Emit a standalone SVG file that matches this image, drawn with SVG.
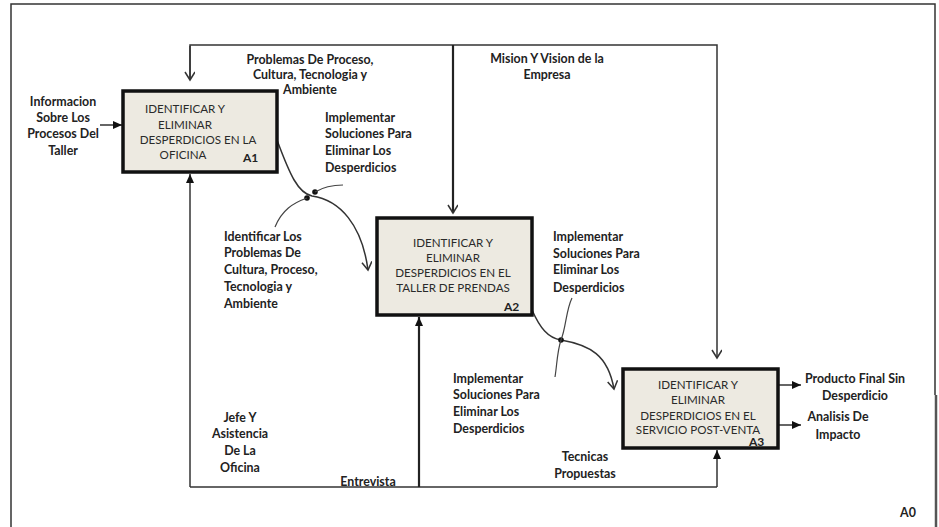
<svg xmlns="http://www.w3.org/2000/svg" width="939" height="527" viewBox="0 0 939 527">
  <defs>
    <style>
      .frame { fill: none; stroke: #333; stroke-width: 1.5; }
      .box { fill: #edeae1; stroke: #111; stroke-width: 3.5; }
      .btxt { font-family: Lato, "Liberation Sans", sans-serif; font-size: 11.6px; fill: #2a2a2a; text-anchor: middle; }
      .code { font-family: Lato, "Liberation Sans", sans-serif; font-size: 12px; font-weight: bold; fill: #222; }
      .lbl { font-family: Lato, "Liberation Sans", sans-serif; font-size: 12.4px; font-weight: bold; fill: #222; }
      .mid { text-anchor: middle; }
      .ln { fill: none; stroke: #333; stroke-width: 1.5; }
      .lnb { fill: none; stroke: #222; stroke-width: 2.2; }
      .sq { fill: none; stroke: #444; stroke-width: 1.2; }
    </style>
    <marker id="open" markerWidth="12" markerHeight="12" refX="9" refY="5" orient="auto" markerUnits="userSpaceOnUse">
      <path d="M1,0 L9,5 L1,10" fill="none" stroke="#333" stroke-width="1.5"/>
    </marker>
    <marker id="solid" markerWidth="12" markerHeight="12" refX="9" refY="4" orient="auto" markerUnits="userSpaceOnUse">
      <path d="M0,0 L9,4 L0,8 z" fill="#111"/>
    </marker>
  </defs>

  <rect width="939" height="527" fill="#fff"/>

  <!-- page frame -->
  <path class="frame" d="M11,527 L11,4 L935,4 L935,395"/>
  <line x1="936" y1="395" x2="936" y2="527" stroke="#555" stroke-width="2.5"/>

  <g id="connectors">
    <!-- control loop across the top -->
    <path class="ln" d="M190,80 L190,45 L717,45 L717,358" marker-end="url(#open)"/>
    <path class="ln" d="M190,46 L190,80" marker-end="url(#open)"/>
    <!-- mision y vision control to A2 -->
    <path class="lnb" d="M453,45 L453,213" marker-end="url(#open)"/>
    <!-- input to A1 -->
    <path class="ln" d="M100,125 L122,125" marker-end="url(#solid)"/>
    <!-- mechanism loop along the bottom -->
    <path class="ln" d="M190,487 L717,487"/>
    <path class="ln" d="M190,487 L190,174" marker-end="url(#solid)"/>
    <path class="lnb" d="M419,487 L419,317" marker-end="url(#solid)"/>
    <path class="ln" d="M717,487 L717,450" marker-end="url(#solid)"/>
    <!-- A1 output to A2 -->
    <path class="ln" d="M277,140 C290,175 298,193 312,196 C340,200 362,225 368,270" marker-end="url(#open)"/>
    <circle cx="307" cy="198" r="2.8" fill="#111"/>
    <circle cx="315" cy="192" r="2.8" fill="#111"/>
    <path class="sq" d="M315,192 C325,186 333,185 343,185"/>
    <path class="sq" d="M307,198 C293,203 282,210 275,227"/>
    <!-- A2 output to A3 -->
    <path class="ln" d="M532,310 C540,328 548,338 561,340 C590,345 608,355 614,389" marker-end="url(#open)"/>
    <circle cx="561" cy="340" r="2.8" fill="#111"/>
    <path class="sq" d="M572,298 C566,310 566,328 561,340 C557,352 557,365 555,377"/>
    <!-- outputs of A3 -->
    <path class="ln" d="M778,385 L801,385" marker-end="url(#solid)"/>
    <path class="ln" d="M778,425 L801,425" marker-end="url(#solid)"/>
  </g>

  <g id="A1">
    <rect class="box" x="123" y="91" width="154" height="81"/>
    <text class="btxt" x="185" y="113">IDENTIFICAR Y</text>
    <text class="btxt" x="185" y="129">ELIMINAR</text>
    <text class="btxt" x="198" y="144">DESPERDICIOS EN LA</text>
    <text class="btxt" x="183" y="159">OFICINA</text>
    <text class="code" x="243" y="162">A1</text>
  </g>

  <g id="A2">
    <rect class="box" x="377" y="218" width="155" height="97"/>
    <text class="btxt" x="453" y="247">IDENTIFICAR Y</text>
    <text class="btxt" x="453" y="262">ELIMINAR</text>
    <text class="btxt" x="453" y="277">DESPERDICIOS EN EL</text>
    <text class="btxt" x="453" y="292">TALLER DE PRENDAS</text>
    <text class="code" x="504" y="311">A2</text>
  </g>

  <g id="A3">
    <rect class="box" x="623" y="369" width="155" height="79"/>
    <text class="btxt" x="698" y="389">IDENTIFICAR Y</text>
    <text class="btxt" x="698" y="404">ELIMINAR</text>
    <text class="btxt" x="698" y="420">DESPERDICIOS EN EL</text>
    <text class="btxt" x="698" y="434">SERVICIO POST-VENTA</text>
    <text class="code" x="749" y="446">A3</text>
  </g>

  <g id="labels">
    <text class="lbl mid" x="63" y="106">Informacion</text>
    <text class="lbl mid" x="63" y="122">Sobre Los</text>
    <text class="lbl mid" x="63" y="138">Procesos Del</text>
    <text class="lbl mid" x="63" y="155">Taller</text>

    <text class="lbl mid" x="310" y="64">Problemas De Proceso,</text>
    <text class="lbl mid" x="310" y="79">Cultura, Tecnologia  y</text>
    <text class="lbl mid" x="310" y="94">Ambiente</text>

    <text class="lbl mid" x="547" y="63">Mision Y Vision de la</text>
    <text class="lbl mid" x="547" y="79">Empresa</text>

    <text class="lbl" x="325" y="122">Implementar</text>
    <text class="lbl" x="325" y="138">Soluciones Para</text>
    <text class="lbl" x="325" y="155">Eliminar Los</text>
    <text class="lbl" x="325" y="172">Desperdicios</text>

    <text class="lbl" x="224" y="241">Identificar Los</text>
    <text class="lbl" x="224" y="257">Problemas  De</text>
    <text class="lbl" x="224" y="274">Cultura, Proceso,</text>
    <text class="lbl" x="224" y="291">Tecnologia  y</text>
    <text class="lbl" x="224" y="308">Ambiente</text>

    <text class="lbl" x="553" y="241">Implementar</text>
    <text class="lbl" x="553" y="258">Soluciones Para</text>
    <text class="lbl" x="553" y="274">Eliminar Los</text>
    <text class="lbl" x="553" y="292">Desperdicios</text>

    <text class="lbl" x="453" y="383">Implementar</text>
    <text class="lbl" x="453" y="399">Soluciones  Para</text>
    <text class="lbl" x="453" y="416">Eliminar  Los</text>
    <text class="lbl" x="453" y="433">Desperdicios</text>

    <text class="lbl mid" x="240" y="422">Jefe Y</text>
    <text class="lbl mid" x="240" y="438">Asistencia</text>
    <text class="lbl mid" x="240" y="455">De La</text>
    <text class="lbl mid" x="240" y="472">Oficina</text>

    <text class="lbl mid" x="368" y="486">Entrevista</text>

    <text class="lbl mid" x="585" y="461">Tecnicas</text>
    <text class="lbl mid" x="585" y="478">Propuestas</text>

    <text class="lbl mid" x="855" y="383">Producto Final Sin</text>
    <text class="lbl mid" x="855" y="400">Desperdicio</text>
    <text class="lbl mid" x="838" y="421">Analisis De</text>
    <text class="lbl mid" x="838" y="439">Impacto</text>

    <text class="lbl mid" x="908" y="517">A0</text>
  </g>
</svg>
